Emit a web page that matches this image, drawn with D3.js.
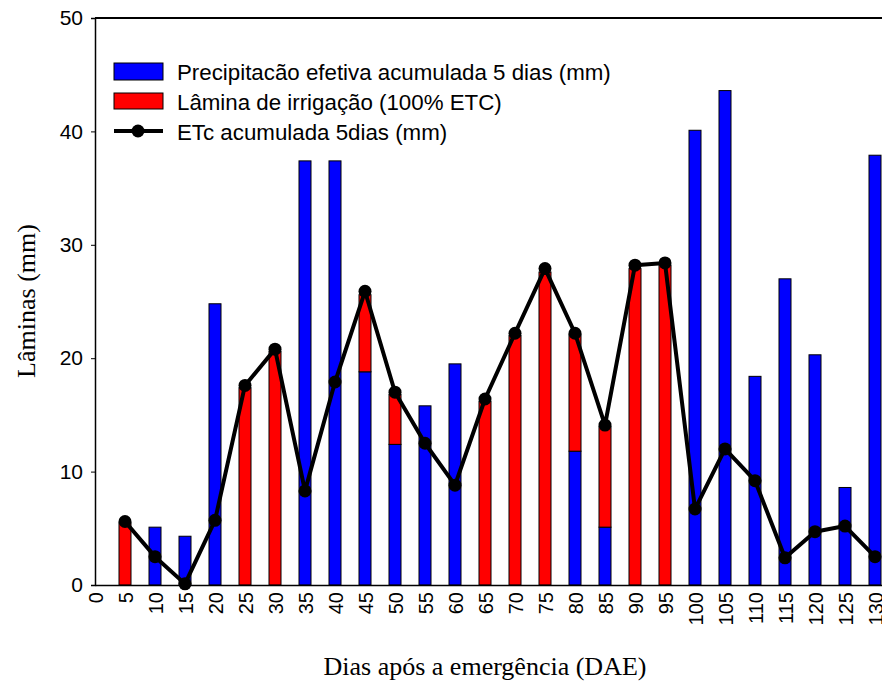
<!DOCTYPE html>
<html>
<head>
<meta charset="utf-8">
<title>Lâminas</title>
<script src="https://d3js.org/d3.v7.min.js"></script>
<style>
  body { margin: 0; background: #fff; }
  svg { display: block; }
</style>
</head>
<body>
<script>
const days = [5, 10, 15, 20, 25, 30, 35, 40, 45, 50, 55, 60, 65, 70, 75, 80, 85, 90, 95, 100, 105, 110, 115, 120, 125, 130]
const precip = [0, 5.1, 4.3, 24.8, 0, 0, 37.4, 37.4, 18.8, 12.4, 15.8, 19.5, 0, 0, 0, 11.8, 5.1, 0, 0, 40.1, 43.6, 18.4, 27.0, 20.3, 8.6, 37.9]
const irrig = [5.5, 0, 0, 0, 17.4, 20.6, 0, 0, 6.8, 4.4, 0, 0, 16.2, 22.0, 27.6, 10.3, 8.9, 27.9, 28.2, 0, 0, 0, 0, 0, 0, 0]
const etc = [5.6, 2.5, 0.1, 5.7, 17.6, 20.8, 8.3, 17.9, 25.9, 17.0, 12.5, 8.8, 16.4, 22.2, 27.9, 22.2, 14.1, 28.2, 28.4, 6.7, 12.0, 9.2, 2.4, 4.7, 5.2, 2.5]

const xTicks = d3.range(0, 131, 5)
const yTicks = [0, 10, 20, 30, 40, 50]
const legendLabels = ['Precipitacão efetiva acumulada 5 dias (mm)', 'Lâmina de irrigação (100% ETC)', 'ETc acumulada 5dias (mm)']

const W = 882, H = 682
const svg = d3.select('body').append('svg').attr('width', W).attr('height', H)

const x = d3.scaleLinear().domain([0, 135]).range([95, 905])
const y = d3.scaleLinear().domain([0, 50]).range([585, 18])
const bw = 12

const rows = days.map((d, i) => ({ day: d, p: precip[i], r: irrig[i], e: etc[i] }))

// bars: rain at the bottom, irrigation stacked above
svg.selectAll('.rain').data(rows.filter(d => d.p > 0)).enter()
  .append('rect').attr('class', 'rain')
    .attr('x', d => x(d.day) - bw / 2).attr('width', bw)
    .attr('y', d => y(d.p)).attr('height', d => y(0) - y(d.p))
    .attr('fill', '#0000ff').attr('stroke', '#000').attr('stroke-width', 1)

svg.selectAll('.irr').data(rows.filter(d => d.r > 0)).enter()
  .append('rect').attr('class', 'irr')
    .attr('x', d => x(d.day) - bw / 2).attr('width', bw)
    .attr('y', d => y(d.p + d.r)).attr('height', d => y(d.p) - y(d.p + d.r))
    .attr('fill', '#ff0000').attr('stroke', '#000').attr('stroke-width', 1)

// ETc line
const line = d3.line().x(d => x(d.day)).y(d => y(d.e))
svg.append('path').datum(rows).attr('d', line)
  .attr('fill', 'none').attr('stroke', '#000').attr('stroke-width', 4).attr('stroke-linejoin', 'round')
svg.selectAll('.pt').data(rows).enter()
  .append('circle').attr('class', 'pt')
    .attr('cx', d => x(d.day)).attr('cy', d => y(d.e)).attr('r', 6.5).attr('fill', '#000')

// axes
const yAxis = d3.axisLeft(y).tickValues(yTicks).tickSize(4).tickPadding(8)
const gy = svg.append('g').attr('transform', 'translate(95,0)').call(yAxis)
gy.selectAll('text').attr('font-family', 'Liberation Sans, Arial, sans-serif').attr('font-size', 21).attr('fill', '#000')
gy.select('.domain').attr('stroke-width', 1.5)

const xAxis = d3.axisBottom(x).tickValues(xTicks).tickSize(0)
const gx = svg.append('g').attr('transform', 'translate(0,585)').call(xAxis)
gx.select('.domain').attr('stroke-width', 1.5)
gx.selectAll('text')
  .attr('font-family', 'Liberation Sans, Arial, sans-serif').attr('font-size', 20).attr('fill', '#000')
  .attr('transform', 'rotate(-90)').attr('text-anchor', 'end')
  .attr('x', -7).attr('y', 0).attr('dy', '.35em')

// top frame
svg.append('line').attr('x1', 95).attr('x2', 905).attr('y1', 18).attr('y2', 18)
  .attr('stroke', '#000').attr('stroke-width', 2)

// axis titles
svg.append('text').attr('x', 485).attr('y', 675).attr('text-anchor', 'middle')
  .attr('font-family', 'Liberation Serif, Times New Roman, serif').attr('font-size', 26)
  .text('Dias após a emergência (DAE)')
svg.append('text').attr('transform', 'translate(35,301) rotate(-90)').attr('text-anchor', 'middle')
  .attr('font-family', 'Liberation Serif, Times New Roman, serif').attr('font-size', 26)
  .text('Lâminas (mm)')

// legend
const lg = svg.append('g').attr('font-family', 'Liberation Sans, Arial, sans-serif').attr('font-size', 22.3)
lg.append('rect').attr('x', 114).attr('y', 63).attr('width', 49).attr('height', 17)
  .attr('fill', '#0000ff').attr('stroke', '#000')
lg.append('rect').attr('x', 114).attr('y', 93).attr('width', 49).attr('height', 16)
  .attr('fill', '#ff0000').attr('stroke', '#000')
lg.append('line').attr('x1', 114).attr('x2', 163).attr('y1', 131).attr('y2', 131)
  .attr('stroke', '#000').attr('stroke-width', 4)
lg.append('circle').attr('cx', 138).attr('cy', 131).attr('r', 6.5).attr('fill', '#000')
lg.selectAll('.lt').data(legendLabels).enter()
  .append('text').attr('class', 'lt')
    .attr('x', 177).attr('y', (d, i) => 72 + i * 30).attr('dy', '.35em')
    .text(d => d)
</script>
</body>
</html>
